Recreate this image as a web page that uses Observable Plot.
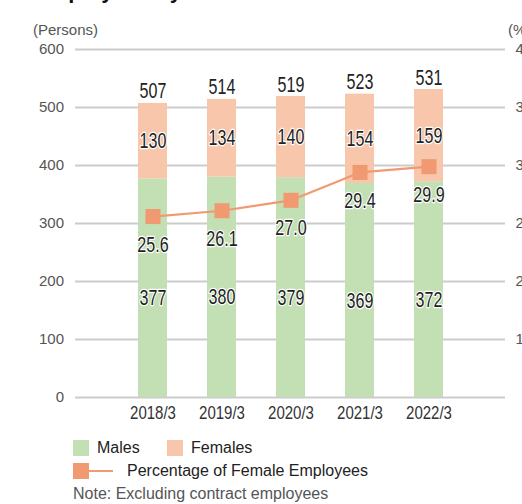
<!DOCTYPE html>
<html>
<head>
<meta charset="utf-8">
<script src="https://cdn.jsdelivr.net/npm/d3@7"></script>
<script src="https://cdn.jsdelivr.net/npm/@observablehq/plot@0.6"></script>
<style>
  html, body { margin: 0; padding: 0; background: #fff; overflow: hidden; }
  #wrap { position: relative; width: 522px; height: 504px; overflow: hidden; font-family: "Liberation Sans", Arial, sans-serif; }
  #title { position: absolute; left: 34px; top: -20px; font-size: 22px; line-height: 22px; font-weight: bold; color: #111; white-space: nowrap; }
  #chart { position: absolute; left: 0; top: 0; }
  .lg { position: absolute; font-size: 16px; color: #222; white-space: nowrap; line-height: 16px; }
  .sw { position: absolute; width: 16px; height: 16px; }
</style>
</head>
<body>
<div id="wrap">
  <div id="title">Employees by Gender</div>
  <div id="chart"></div>
  <div class="sw" style="left:73px; top:440px; background:#c2e0b3;"></div>
  <div class="lg" style="left:97px; top:440px;">Males</div>
  <div class="sw" style="left:167px; top:440px; background:#f8c6ab;"></div>
  <div class="lg" style="left:191px; top:440px;">Females</div>
  <div style="position:absolute; left:85px; top:470px; width:28px; height:2px; background:#f19a72;"></div>
  <div class="sw" style="left:73px; top:463px; background:#f19a72;"></div>
  <div class="lg" style="left:127px; top:463px;">Percentage of Female Employees</div>
  <div class="lg" style="left:73px; top:486px; color:#555;">Note: Excluding contract employees</div>
</div>
<script>
const years = ["2018/3", "2019/3", "2020/3", "2021/3", "2022/3"];
const males = [377, 380, 379, 369, 372];
const females = [130, 134, 140, 154, 159];
const totals = [507, 514, 519, 523, 531];
const femalePct = [25.6, 26.1, 27.0, 29.4, 29.9];
const leftTicks = [0, 100, 200, 300, 400, 500, 600];
const rightTicks = [15, 20, 25, 30, 35, 40];

const GREEN = "#c2e0b3", PINK = "#f8c6ab", ORANGE = "#f19a72";
const SANS = "'Liberation Sans', Arial, sans-serif";

// right axis: 10% at 0 persons, 40% at 600 persons
const pctToY = p => (p - 10) * 20;
const yToPct = v => v / 20 + 10;

const rows = [];
years.forEach((y, i) => rows.push({year: y, group: "Males", value: males[i]}));
years.forEach((y, i) => rows.push({year: y, group: "Females", value: females[i]}));
const byYear = years.map((y, i) => ({year: y, male: males[i], female: females[i], total: totals[i], pct: femalePct[i]}));

const label = {fontSize: 22, fontFamily: SANS, fill: "#222", stroke: "white", strokeWidth: 2.5};

const chart = Plot.plot({
  width: 522,
  height: 430,
  marginTop: 49,
  marginBottom: 33,
  marginLeft: 94.5,
  marginRight: 36.5,
  style: {fontFamily: SANS, background: "transparent", overflow: "visible"},
  x: {domain: years, padding: 0.586, label: null},
  y: {domain: [0, 600], label: null},
  color: {domain: ["Males", "Females"], range: [GREEN, PINK]},
  marks: [
    Plot.ruleY(leftTicks, {stroke: "#cccccc", strokeWidth: 2, insetLeft: -19.5, insetRight: -19.5}),
    Plot.barY(rows, {x: "year", y: "value", fill: "group", order: null}),
    Plot.axisY({ticks: leftTicks, tickSize: 0, tickPadding: 31, fontSize: 15, fill: "#555", label: null}),
    Plot.axisY({anchor: "right", ticks: rightTicks.map(pctToY), tickFormat: d => String(yToPct(d)), tickSize: 0, tickPadding: 29.5, fontSize: 15, fill: "#555", label: null, textAnchor: "start"}),
    Plot.axisX({tickSize: 0, tickPadding: 8, fontSize: 19, fill: "#333", label: null}),
    Plot.text(["(Persons)"], {frameAnchor: "top-left", dx: -62, dy: -25, fontSize: 15, fill: "#555", textAnchor: "start"}),
    Plot.text(["(%)"], {frameAnchor: "top-right", dx: 22, dy: -25, fontSize: 15, fill: "#555", textAnchor: "start"}),
    Plot.text(byYear, {x: "year", y: "total", text: d => String(d.total), dy: -12, ...label}),
    Plot.text(byYear, {x: "year", y: d => d.male + d.female / 2, text: d => String(d.female), ...label}),
    Plot.text(byYear, {x: "year", y: d => d.male / 2, text: d => String(d.male), dy: 10, ...label}),
    Plot.line(byYear, {x: "year", y: d => pctToY(d.pct), stroke: ORANGE, strokeWidth: 2.2}),
    Plot.dot(byYear, {x: "year", y: d => pctToY(d.pct), symbol: "square", r: 8.5, fill: ORANGE, stroke: null}),
    Plot.text(byYear, {x: "year", y: d => pctToY(d.pct), text: d => d.pct.toFixed(1), dy: 28, ...label})
  ]
});
document.getElementById("chart").appendChild(chart);

// condensed look: squeeze numeric labels horizontally
function squeeze(sel, k) {
  chart.querySelectorAll(sel).forEach(t => {
    if (!/^[\d.\/]+$/.test(t.textContent.trim())) return;
    const L = t.getComputedTextLength();
    t.setAttribute("textLength", (L * k).toFixed(1));
    t.setAttribute("lengthAdjust", "spacingAndGlyphs");
  });
}
squeeze('g[aria-label="text"] text', 0.73);
squeeze('g[aria-label="x-axis tick label"] text', 0.79);
</script>
</body>
</html>
